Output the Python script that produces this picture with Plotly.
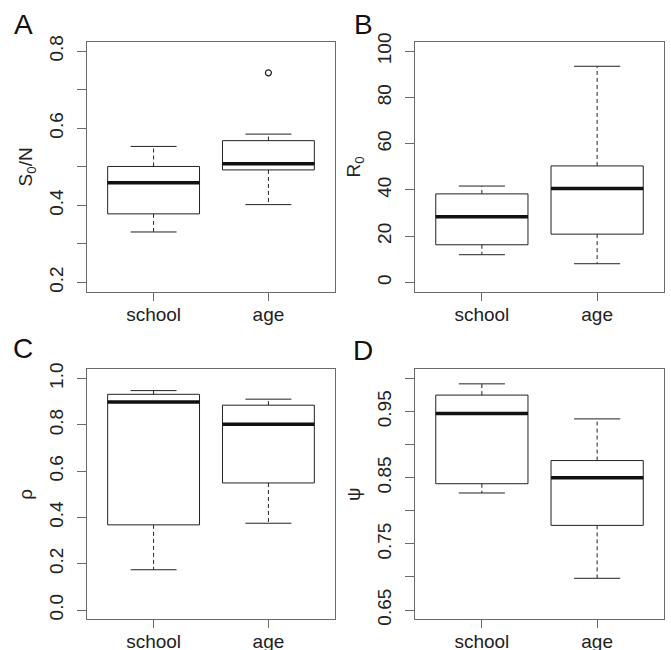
import plotly.graph_objects as go

# ---------------- data ----------------
groups = ["school", "age"]

# Panel A: S0/N
a_lower = [0.331, 0.402]
a_q1 = [0.378, 0.492]
a_median = [0.459, 0.508]
a_q3 = [0.501, 0.568]
a_upper = [0.553, 0.585]
a_outliers = [[], [0.744]]

# Panel B: R0
b_lower = [12.0, 8.1]
b_q1 = [16.3, 20.9]
b_median = [28.4, 40.6]
b_q3 = [38.3, 50.4]
b_upper = [41.7, 93.5]
b_outliers = [[], []]

# Panel C: rho
c_lower = [0.174, 0.375]
c_q1 = [0.368, 0.549]
c_median = [0.899, 0.803]
c_q3 = [0.932, 0.885]
c_upper = [0.948, 0.911]
c_outliers = [[], []]

# Panel D: psi
d_lower = [0.827, 0.698]
d_q1 = [0.841, 0.778]
d_median = [0.947, 0.850]
d_q3 = [0.975, 0.876]
d_upper = [0.992, 0.939]
d_outliers = [[], []]

a_ticks = [0.2, 0.3, 0.4, 0.5, 0.6, 0.7, 0.8]
a_labels = ["0.2", "", "0.4", "", "0.6", "", "0.8"]
b_ticks = [0, 20, 40, 60, 80, 100]
b_labels = ["0", "20", "40", "60", "80", "100"]
c_ticks = [0.0, 0.2, 0.4, 0.6, 0.8, 1.0]
c_labels = ["0.0", "0.2", "0.4", "0.6", "0.8", "1.0"]
d_ticks = [0.65, 0.70, 0.75, 0.80, 0.85, 0.90, 0.95, 1.00]
d_labels = ["0.65", "", "0.75", "", "0.85", "", "0.95", ""]

panel_letters = ["A", "B", "C", "D"]
y_titles = ["S<sub>0</sub>/N", "R<sub>0</sub>", "\u03c1", "\u03c8"]

# ---------------- styling ----------------
FONT = "Liberation Sans, Arial, Helvetica, sans-serif"
FRAME = "#6a6a6a"
INK = "#222222"
BOXW = 0.8
CAPW = 0.4

panels = [
    dict(lo=a_lower, q1=a_q1, med=a_median, q3=a_q3, hi=a_upper, out=a_outliers,
         ticks=a_ticks, labels=a_labels, ylim=(0.2, 0.8)),
    dict(lo=b_lower, q1=b_q1, med=b_median, q3=b_q3, hi=b_upper, out=b_outliers,
         ticks=b_ticks, labels=b_labels, ylim=(0, 100)),
    dict(lo=c_lower, q1=c_q1, med=c_median, q3=c_q3, hi=c_upper, out=c_outliers,
         ticks=c_ticks, labels=c_labels, ylim=(0, 1)),
    dict(lo=d_lower, q1=d_q1, med=d_median, q3=d_q3, hi=d_upper, out=d_outliers,
         ticks=d_ticks, labels=d_labels, ylim=(0.65, 1.0)),
]

W, H = 671, 650
x_domains = [(87 / W, 335 / W), (415 / W, 664 / W)]
y_domains = [(1 - 291.7 / H, 1 - 42 / H), (1 - 619.3 / H, 1 - 369.3 / H)]

fig = go.Figure()
positions = [1, 2]

for i, p in enumerate(panels):
    xa = "x" if i == 0 else f"x{i+1}"
    ya = "y" if i == 0 else f"y{i+1}"

    # box bodies
    fig.add_trace(go.Box(
        x=positions, q1=p["q1"], median=p["med"], q3=p["q3"],
        lowerfence=p["q1"], upperfence=p["q3"],
        width=BOXW, whiskerwidth=0,
        fillcolor="white", line=dict(color=INK, width=1),
        boxpoints=False, hoverinfo="skip",
        xaxis=xa, yaxis=ya, showlegend=False))

    # dashed whiskers
    wx, wy = [], []
    for k, c in enumerate(positions):
        wx += [c, c, None, c, c, None]
        wy += [p["q3"][k], p["hi"][k], None, p["q1"][k], p["lo"][k], None]
    fig.add_trace(go.Scatter(x=wx, y=wy, mode="lines",
                             line=dict(color=INK, width=1, dash="4px,3px"),
                             xaxis=xa, yaxis=ya, showlegend=False, hoverinfo="skip"))

    # whisker caps
    cx, cy = [], []
    for k, c in enumerate(positions):
        for v in (p["hi"][k], p["lo"][k]):
            cx += [c - CAPW / 2, c + CAPW / 2, None]
            cy += [v, v, None]
    fig.add_trace(go.Scatter(x=cx, y=cy, mode="lines",
                             line=dict(color=INK, width=1),
                             xaxis=xa, yaxis=ya, showlegend=False, hoverinfo="skip"))

    # thick medians
    mx, my = [], []
    for k, c in enumerate(positions):
        mx += [c - BOXW / 2, c + BOXW / 2, None]
        my += [p["med"][k], p["med"][k], None]
    fig.add_trace(go.Scatter(x=mx, y=my, mode="lines",
                             line=dict(color="#111111", width=3.5),
                             xaxis=xa, yaxis=ya, showlegend=False, hoverinfo="skip"))

    # outliers
    ox, oy = [], []
    for k, c in enumerate(positions):
        for v in p["out"][k]:
            ox.append(c)
            oy.append(v)
    if ox:
        fig.add_trace(go.Scatter(x=ox, y=oy, mode="markers",
                                 marker=dict(symbol="circle-open", size=6,
                                             color=INK, line=dict(width=1.2)),
                                 xaxis=xa, yaxis=ya, showlegend=False, hoverinfo="skip"))

layout = dict(
    template="none",
    width=W, height=H, margin=dict(l=0, r=0, t=0, b=0),
    paper_bgcolor="white", plot_bgcolor="white",
    font=dict(family=FONT, size=19, color="#222222"),
    showlegend=False,
)

for i, p in enumerate(panels):
    col, row = i % 2, i // 2
    xk = "xaxis" if i == 0 else f"xaxis{i+1}"
    yk = "yaxis" if i == 0 else f"yaxis{i+1}"
    lo, hi = p["ylim"]
    pad = (hi - lo) * 0.04
    layout[xk] = dict(
        domain=list(x_domains[col]), range=[0.42, 2.58], automargin=False,
        anchor="y" if i == 0 else f"y{i+1}",
        tickvals=positions, ticktext=groups,
        ticks="outside", ticklen=8, tickcolor=FRAME, tickwidth=1,
        showline=True, mirror=True, linecolor=FRAME, linewidth=1,
        showgrid=False, zeroline=False, fixedrange=True,
        tickfont=dict(size=19, family=FONT, color="#222222"),
        ticklabelstandoff=-3,
    )
    layout[yk] = dict(
        domain=list(y_domains[row]), range=[lo - pad, hi + pad], automargin=False,
        anchor="x" if i == 0 else f"x{i+1}",
        tickvals=p["ticks"], ticktext=p["labels"], tickangle=-90,
        ticks="outside", ticklen=9, tickcolor=FRAME, tickwidth=1,
        showline=True, mirror=True, linecolor=FRAME, linewidth=1,
        showgrid=False, zeroline=False, fixedrange=True,
        tickfont=dict(size=19, family=FONT, color="#222222"),
        ticklabelstandoff=6,
        title=dict(text=y_titles[i], font=dict(size=19, family=FONT, color="#222222"),
                   standoff=8),
    )

fig.update_layout(**layout)

letter_pos = [(23, 25), (363, 25), (23, 348), (363, 350)]
for letter, (lx, ly) in zip(panel_letters, letter_pos):
    fig.add_annotation(text=letter, x=lx / W, y=1 - ly / H, xref="paper", yref="paper",
                       xanchor="center", yanchor="middle", showarrow=False,
                       font=dict(size=28, family=FONT, color="#111111"))

fig.write_html("out.html", config={"displayModeBar": False},
               post_script="document.body.style.margin='0';document.body.style.overflow='hidden';")
